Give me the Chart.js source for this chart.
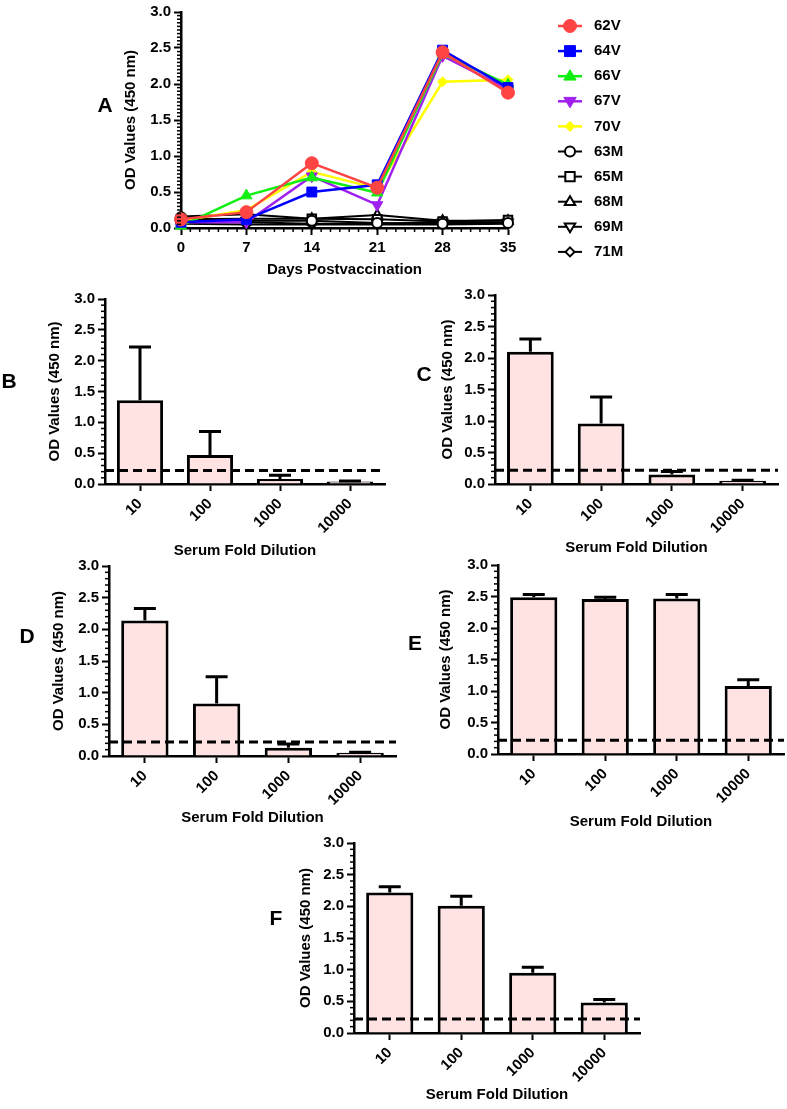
<!DOCTYPE html>
<html><head><meta charset="utf-8">
<script src="https://cdn.jsdelivr.net/npm/chart.js@4.4.1/dist/chart.umd.min.js"></script>
<style>
html,body{margin:0;padding:0;background:#fff;}
#wrap{position:relative;width:787px;height:1109px;overflow:hidden;background:#fff;}
#wrap canvas{position:absolute;left:0;top:0;}
.lbl{position:absolute;font:bold 21px 'Liberation Sans',Arial,Helvetica,sans-serif;transform:translate(-50%,-50%);color:#000;line-height:1;}
</style></head><body>
<div id="wrap">
<canvas id="cA" width="787" height="1109"></canvas>
<canvas id="cB" width="787" height="1109"></canvas>
<canvas id="cC" width="787" height="1109"></canvas>
<canvas id="cD" width="787" height="1109"></canvas>
<canvas id="cE" width="787" height="1109"></canvas>
<canvas id="cF" width="787" height="1109"></canvas>
<div class="lbl" style="left:105px;top:104px">A</div>
<div class="lbl" style="left:9px;top:380px">B</div>
<div class="lbl" style="left:424px;top:373px">C</div>
<div class="lbl" style="left:27px;top:635px">D</div>
<div class="lbl" style="left:415px;top:642px">E</div>
<div class="lbl" style="left:276px;top:917px">F</div>
</div>
<script>
// ---------------- DATA ----------------
const days = [0, 7, 14, 21, 28, 35];
const s62V = [0.12, 0.22, 0.90, 0.56, 2.44, 1.88];
const s64V = [0.08, 0.12, 0.50, 0.60, 2.47, 1.95];
const s66V = [0.03, 0.45, 0.70, 0.49, 2.42, 1.99];
const s67V = [0.08, 0.08, 0.72, 0.32, 2.39, 1.93];
const s70V = [0.10, 0.25, 0.78, 0.55, 2.03, 2.06];
const s63M = [0.15, 0.10, 0.10, 0.07, 0.06, 0.07];
const s65M = [0.12, 0.13, 0.13, 0.12, 0.09, 0.11];
const s68M = [0.16, 0.19, 0.13, 0.18, 0.10, 0.10];
const s69M = [0.10, 0.08, 0.06, 0.06, 0.08, 0.08];
const s71M = [0.06, 0.05, 0.05, 0.05, 0.05, 0.06];

const dilutions = ['10', '100', '1000', '10000'];
const meanB = [1.36, 0.47, 0.08, 0.04];
const errB  = [2.22, 0.85, 0.14, 0.05];
const meanC = [2.10, 0.96, 0.15, 0.05];
const errC  = [2.30, 1.38, 0.20, 0.06];
const meanD = [2.14, 0.83, 0.13, 0.05];
const errD  = [2.33, 1.25, 0.19, 0.06];
const meanE = [2.49, 2.46, 2.47, 1.08];
const errE  = [2.53, 2.49, 2.53, 1.18];
const meanF = [2.22, 2.01, 0.95, 0.48];
const errF  = [2.31, 2.16, 1.04, 0.53];
const cutoff = 0.22;

const yMin = 0, yMax = 3, yStep = 0.5;
const yMinorStepLine = 0.05, yMinorStepBar = 0.1;
const xMinorStep = 1;

// ---------------- STYLE / LAYOUT ----------------
const PAGE_W = 787, PAGE_H = 1109;
const FAM = "'Liberation Sans', Arial, Helvetica, sans-serif";
const TICK_FONT = {family: FAM, size: 15, weight: 'bold'};
const TITLE_FONT = {family: FAM, size: 15, weight: 'bold', lineHeight: 1.2};
const PINK = '#FFE2E2';

const geoA = {left: 181, right: 508, top: 9, bottom: 228, yTitleX: 131, xTitleY: 270};
const geoB = {left: 105, right: 385, top: 299, bottom: 484, yTitleX: 55, xTitleY: 551};
const geoC = {left: 495, right: 778, top: 295, bottom: 484, yTitleX: 448, xTitleY: 548};
const geoD = {left: 109, right: 396, top: 566, bottom: 756, yTitleX: 59, xTitleY: 818};
const geoE = {left: 498, right: 784, top: 565, bottom: 754, yTitleX: 446, xTitleY: 822};
const geoF = {left: 354, right: 640, top: 843, bottom: 1033, yTitleX: 306, xTitleY: 1095};

function frame(g) {
  const half = TITLE_FONT.size * TITLE_FONT.lineHeight / 2;
  const padLeft = g.yTitleX - half;
  const scaleBottom = g.xTitleY + half;
  return {
    padding: {left: padLeft, top: g.top, right: PAGE_W - g.right, bottom: PAGE_H - scaleBottom},
    yWidth: g.left - padLeft,
    xHeight: scaleBottom - g.bottom
  };
}

function drawMarker(ctx, style, r, x, y, rot) {
  ctx.beginPath();
  if (style === 'circle') {
    ctx.arc(x, y, r, 0, Math.PI * 2);
  } else if (style === 'rect') {
    const s = r * 0.78;
    ctx.rect(x - s, y - s, 2 * s, 2 * s);
  } else if (style === 'rectRot') {
    ctx.moveTo(x, y - r); ctx.lineTo(x + r, y); ctx.lineTo(x, y + r); ctx.lineTo(x - r, y); ctx.closePath();
  } else if (style === 'triangle') {
    const d = rot ? -1 : 1;
    ctx.moveTo(x, y - d * r);
    ctx.lineTo(x + r * 0.95, y + d * r * 0.6);
    ctx.lineTo(x - r * 0.95, y + d * r * 0.6);
    ctx.closePath();
  }
  ctx.fill();
  ctx.stroke();
}

const extras = {
  id: 'extras',
  afterDatasetsDraw(chart, args, o) {
    const ctx = chart.ctx, a = chart.chartArea, ys = chart.scales.y;
    ctx.save();
    ctx.strokeStyle = '#000';
    if (o.errors) {
      ctx.lineWidth = 3;
      ctx.setLineDash([]);
      const meta = chart.getDatasetMeta(0);
      meta.data.forEach((bar, i) => {
        const ye = ys.getPixelForValue(o.errors[i]);
        ctx.beginPath();
        ctx.moveTo(bar.x, bar.y);
        ctx.lineTo(bar.x, ye);
        ctx.moveTo(bar.x - 11, ye);
        ctx.lineTo(bar.x + 11, ye);
        ctx.stroke();
      });
    }
    if (o.cutoff !== undefined) {
      const yc = ys.getPixelForValue(o.cutoff);
      ctx.lineWidth = 3;
      ctx.setLineDash([9, 5]);
      ctx.beginPath();
      ctx.moveTo(a.left, yc);
      ctx.lineTo(a.right, yc);
      ctx.stroke();
    }
    ctx.restore();
  },
  afterDraw(chart, args, o) {
    const ctx = chart.ctx, a = chart.chartArea, ys = chart.scales.y, xs = chart.scales.x;
    ctx.save();
    ctx.strokeStyle = '#000';
    ctx.lineWidth = 1.5;
    ctx.setLineDash([]);
    const step = o.yMinor;
    const nY = Math.round((yMax - yMin) / step);
    const per = Math.round(yStep / step);
    for (let k = 0; k <= nY; k++) {
      if (k % per === 0) continue;
      const py = ys.getPixelForValue(yMin + k * step);
      ctx.beginPath(); ctx.moveTo(a.left - 4, py); ctx.lineTo(a.left, py); ctx.stroke();
    }
    if (o.xMinor) {
      const nX = Math.round((xs.max - xs.min) / xMinorStep);
      for (let k = 0; k <= nX; k++) {
        const v = xs.min + k * xMinorStep;
        if (v % 7 === 0) continue;
        const px = xs.getPixelForValue(v);
        ctx.beginPath(); ctx.moveTo(px, a.bottom); ctx.lineTo(px, a.bottom + 4); ctx.stroke();
      }
    }
    if (o.legend) {
      chart.data.datasets.forEach((ds, i) => {
        const ly = a.top + 14 + i * 25.1;
        const mx = a.right + 62;
        ctx.strokeStyle = ds.borderColor;
        ctx.lineWidth = ds.borderWidth;
        ctx.beginPath(); ctx.moveTo(mx - 12, ly); ctx.lineTo(mx + 12, ly); ctx.stroke();
        ctx.fillStyle = ds.pointBackgroundColor;
        ctx.strokeStyle = ds.pointBorderColor;
        ctx.lineWidth = ds.pointBorderWidth;
        drawMarker(ctx, ds.pointStyle, ds.pointRadius, mx, ly, ds.pointRotation);
        ctx.fillStyle = '#000';
        ctx.font = 'bold 15px ' + FAM;
        ctx.textBaseline = 'middle';
        ctx.textAlign = 'left';
        ctx.fillText(ds.label, a.right + 86, ly);
      });
    }
    ctx.restore();
  }
};

function yAxis(fr) {
  return {
    min: yMin, max: yMax,
    ticks: {stepSize: yStep, font: TICK_FONT, color: '#000', padding: 3, callback: v => Number(v).toFixed(1)},
    grid: {display: true, drawOnChartArea: false, drawTicks: true, tickLength: 7, tickWidth: 2, tickColor: '#000'},
    border: {display: true, color: '#000', width: 2.5},
    title: {display: true, text: 'OD Values (450 nm)', font: TITLE_FONT, color: '#000', padding: 0},
    afterFit: s => { s.width = fr.yWidth; }
  };
}

// Panel A markers
const markerStyles = {
  '62V': {color: '#FF4444', style: 'circle', r: 6.5, open: false},
  '64V': {color: '#0000FF', style: 'rect', r: 7, open: false},
  '66V': {color: '#11EE11', style: 'triangle', r: 6.5, open: false},
  '67V': {color: '#A020F0', style: 'triangle', r: 6.5, open: false, rot: 180},
  '70V': {color: '#FFFF00', style: 'rectRot', r: 5, open: false},
  '63M': {color: '#000000', style: 'circle', r: 5, open: true},
  '65M': {color: '#000000', style: 'rect', r: 6, open: true},
  '68M': {color: '#000000', style: 'triangle', r: 5.5, open: true},
  '69M': {color: '#000000', style: 'triangle', r: 5.5, open: true, rot: 180},
  '71M': {color: '#000000', style: 'rectRot', r: 4.5, open: true}
};
const seriesA = [['62V', s62V], ['64V', s64V], ['66V', s66V], ['67V', s67V], ['70V', s70V],
                 ['63M', s63M], ['65M', s65M], ['68M', s68M], ['69M', s69M], ['71M', s71M]];

const frA = frame(geoA);
new Chart(document.getElementById('cA'), {
  type: 'line',
  data: {
    datasets: seriesA.map(([name, vals]) => {
      const m = markerStyles[name];
      return {
        label: name,
        data: vals.map((v, i) => ({x: days[i], y: v})),
        borderColor: m.color,
        backgroundColor: m.color,
        borderWidth: m.open ? 2 : 2.5,
        pointStyle: m.style,
        pointRadius: m.r,
        pointRotation: m.rot || 0,
        pointBackgroundColor: m.open ? '#FFFFFF' : m.color,
        pointBorderColor: m.color,
        pointBorderWidth: m.open ? 2 : 1,
        tension: 0,
        clip: false
      };
    })
  },
  options: {
    responsive: false, animation: false, devicePixelRatio: 1,
    layout: {padding: frA.padding},
    plugins: {legend: {display: false}, tooltip: {enabled: false}, extras: {legend: true, xMinor: true, yMinor: yMinorStepLine}},
    scales: {
      x: {
        type: 'linear', min: 0, max: 35,
        ticks: {stepSize: 7, font: TICK_FONT, color: '#000', padding: 4},
        grid: {display: true, drawOnChartArea: false, drawTicks: true, tickLength: 7, tickWidth: 2, tickColor: '#000'},
        border: {display: true, color: '#000', width: 2.5},
        title: {display: true, text: 'Days Postvaccination', font: TITLE_FONT, color: '#000', padding: 0},
        afterFit: s => { s.height = frA.xHeight; }
      },
      y: yAxis(frA)
    }
  },
  plugins: [extras]
});

function barPanel(id, geo, means, errs) {
  const fr = frame(geo);
  new Chart(document.getElementById(id), {
    type: 'bar',
    data: {
      labels: dilutions,
      datasets: [{
        data: means,
        backgroundColor: PINK,
        borderColor: '#000',
        borderWidth: 3,
        barPercentage: 0.66,
        categoryPercentage: 1
      }]
    },
    options: {
      responsive: false, animation: false, devicePixelRatio: 1,
      layout: {padding: fr.padding},
      plugins: {legend: {display: false}, tooltip: {enabled: false}, extras: {errors: errs, cutoff: cutoff, yMinor: yMinorStepBar}},
      scales: {
        x: {
          type: 'category', offset: true,
          ticks: {font: TICK_FONT, color: '#000', minRotation: 45, maxRotation: 45, padding: 4},
          grid: {display: true, offset: false, drawOnChartArea: false, drawTicks: true, tickLength: 7, tickWidth: 2, tickColor: '#000'},
          border: {display: true, color: '#000', width: 2.5},
          title: {display: true, text: 'Serum Fold Dilution', font: TITLE_FONT, color: '#000', padding: 0},
          afterFit: s => { s.height = fr.xHeight; }
        },
        y: yAxis(fr)
      }
    },
    plugins: [extras]
  });
}

barPanel('cB', geoB, meanB, errB);
barPanel('cC', geoC, meanC, errC);
barPanel('cD', geoD, meanD, errD);
barPanel('cE', geoE, meanE, errE);
barPanel('cF', geoF, meanF, errF);
</script>
</body></html>
